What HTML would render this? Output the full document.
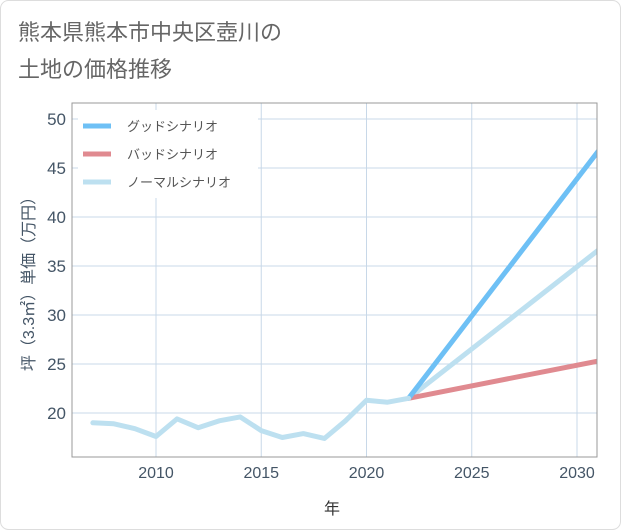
<!DOCTYPE html>
<html><head><meta charset="utf-8"><style>
body{margin:0;background:#fff;font-family:"Liberation Sans","Noto Sans CJK JP",sans-serif;}
#wrap{position:relative;width:621px;height:530px;}
</style></head><body><div id="wrap">
<svg id="svg" width="621" height="530" xmlns="http://www.w3.org/2000/svg" style="position:absolute;left:0;top:0">
<defs><clipPath id="pc"><rect x="72" y="103" width="525" height="354"/></clipPath></defs>
<rect x="0.5" y="0.5" width="620" height="529" rx="8" fill="#fff" stroke="#ddd"/>
<text x="18" y="40" font-size="22" fill="#666">熊本県熊本市中央区壺川の</text>
<text x="18" y="77" font-size="22" fill="#666">土地の価格推移</text>
<g id="grid"></g>
<g id="series" clip-path="url(#pc)"></g>
<rect x="72" y="103" width="525" height="354" fill="none" stroke="#999"/>
<g id="legend"></g>
<text x="332" y="514" font-size="16" fill="#333" text-anchor="middle">年</text>
<text transform="translate(34,280) rotate(-90)" font-size="16" fill="#456" text-anchor="middle">坪（3.3㎡）単価（万円）</text>
</svg></div>
<script>
const years=[2007,2008,2009,2010,2011,2012,2013,2014,2015,2016,2017,2018,2019,2020,2021,2022];
const history=[19.0,18.9,18.4,17.6,19.4,18.5,19.2,19.6,18.2,17.5,17.9,17.4,19.2,21.3,21.1,21.5];
const projYears=[2022,2031];
const good=[21.5,46.7];
const bad=[21.5,25.3];
const normal=[21.5,36.6];
const xTicks=[2010,2015,2020,2025,2030];
const yTicks=[20,25,30,35,40,45,50];
const NS="http://www.w3.org/2000/svg";
function X(y){return 156+(y-2010)*(577-156)/20;}
function Y(v){return 413-(v-20)*(413-119)/30;}
function mk(t,a,p){const e=document.createElementNS(NS,t);for(const k in a)e.setAttribute(k,a[k]);p.appendChild(e);return e;}
const g=document.getElementById('grid');
xTicks.forEach(t=>{const l=mk('line',{x1:X(t),x2:X(t),y1:103,y2:457,stroke:'#c8d8e8'},g);


const tx=mk('text',{x:X(t),y:478,'font-size':16,fill:'#456','text-anchor':'middle'},g);tx.textContent=t;

});
yTicks.forEach(t=>{const l=mk('line',{x1:72,x2:597,y1:Y(t),y2:Y(t),stroke:'#c8d8e8'},g);


const tx=mk('text',{x:66,y:Y(t)+6,'font-size':17,fill:'#456','text-anchor':'end'},g);tx.textContent=t;

});
const s=document.getElementById('series');
function line(xs,vs,c,name){const p=mk('polyline',{points:xs.map((y,i)=>X(y)+','+Y(vs[i])).join(' '),fill:'none',stroke:c,'stroke-width':5,'stroke-linejoin':'round','stroke-linecap':'round'},s);

}
line(projYears,normal,'#bde0f0','normal-scenario-line');
line(projYears,bad,'#e08a90','bad-scenario-line');
line(projYears,good,'#6ec0f5','good-scenario-line');
line(years,history,'#bde0f0','history-line');
const lg=document.getElementById('legend');
const lb=mk('rect',{x:78,y:110,width:180,height:88,fill:'#fff'},lg);


[['グッドシナリオ','#6ec0f5'],['バッドシナリオ','#e08a90'],['ノーマルシナリオ','#bde0f0']].forEach((d,i)=>{
const y=126+i*28;
const l=mk('line',{x1:83,x2:111,y1:y,y2:y,stroke:d[1],'stroke-width':5},lg);


const t=mk('text',{x:127,y:y+5,'font-size':13,fill:'#555'},lg);t.textContent=d[0];

});
</script></body></html>
